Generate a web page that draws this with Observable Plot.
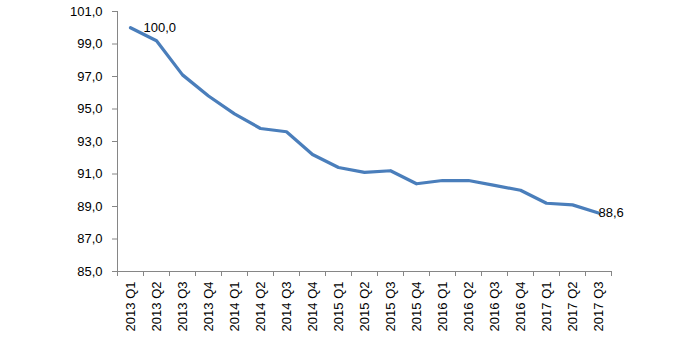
<!DOCTYPE html>
<html><head><meta charset="utf-8">
<script src="https://cdn.jsdelivr.net/npm/d3@7"></script>
<script src="https://cdn.jsdelivr.net/npm/@observablehq/plot@0.6"></script>
<style>body{margin:0;background:#fff} svg{font-family:"Liberation Sans",Arial,sans-serif}</style>
</head><body><div id="chart"></div>
<script>
const quarters = ["2013 Q1","2013 Q2","2013 Q3","2013 Q4","2014 Q1","2014 Q2","2014 Q3","2014 Q4",
  "2015 Q1","2015 Q2","2015 Q3","2015 Q4","2016 Q1","2016 Q2","2016 Q3","2016 Q4","2017 Q1","2017 Q2","2017 Q3"];
const values = [100.0, 99.2, 97.1, 95.8, 94.7, 93.8, 93.6, 92.2, 91.4, 91.1, 91.2, 90.4, 90.6, 90.6, 90.3, 90.0, 89.2, 89.1, 88.6];
const yTicks = [85, 87, 89, 91, 93, 95, 97, 99, 101];
const labelIdx = [0, 18];

const fmt = v => v.toFixed(1).replace(".", ",");
const data = quarters.map((q, i) => ({i, q, v: values[i]}));
const axisColor = "#868686";

const chart = Plot.plot({
  width: 700, height: 338,
  marginLeft: 117, marginRight: 89, marginTop: 11, marginBottom: 67,
  style: {fontFamily: "Liberation Sans, Arial, sans-serif", fontSize: "13px", color: "#000", background: "#fff"},
  x: {domain: [-0.5, quarters.length - 0.5]},
  y: {domain: [85, 101]},
  marks: [
    Plot.axisY({ticks: yTicks, tickFormat: fmt, tickSize: 5, tickPadding: 10, stroke: axisColor, label: null, fontSize: 13}),
    Plot.ruleX([-0.5], {stroke: axisColor}),
    Plot.ruleY([85], {stroke: axisColor}),
    Plot.axisX({ticks: d3.range(quarters.length + 1).map(i => i - 0.5), tickFormat: () => "", tickSize: 5, stroke: axisColor, label: null}),
    Plot.axisX({ticks: d3.range(quarters.length), tickFormat: i => quarters[i], tickSize: 0, tickRotate: -90, tickPadding: 10, label: null, fontSize: 13}),
    Plot.line(data, {x: "i", y: "v", stroke: "#4a7ebb", strokeWidth: 3.25}),
    Plot.text([data[labelIdx[0]]], {x: "i", y: "v", text: d => fmt(d.v), dx: 13, textAnchor: "start", fontSize: 13}),
    Plot.text([data[labelIdx[1]]], {x: "i", y: "v", text: d => fmt(d.v), dx: 0, textAnchor: "start", fontSize: 13})
  ]
});
document.getElementById("chart").appendChild(chart);
</script>
</body></html>
